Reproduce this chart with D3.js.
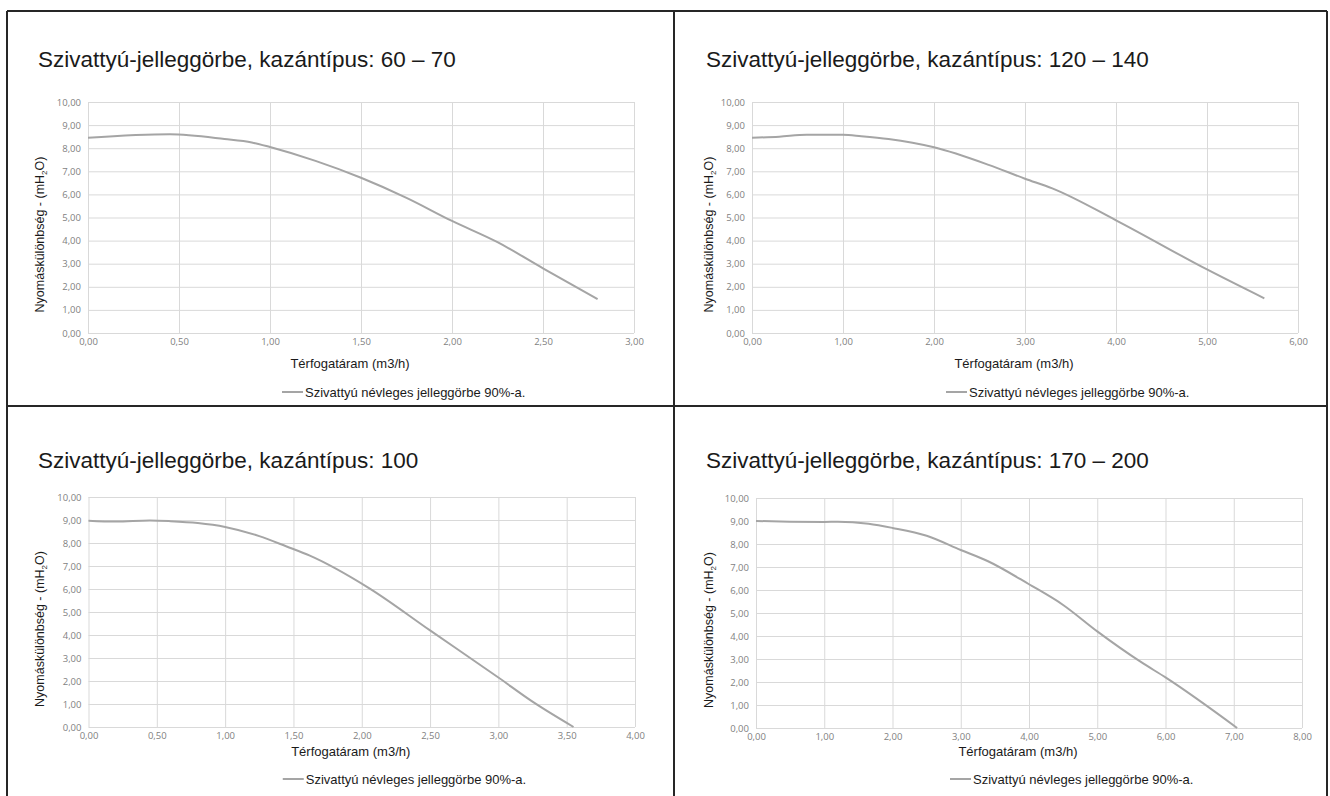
<!DOCTYPE html>
<html>
<head>
<meta charset="utf-8">
<script src="https://cdn.jsdelivr.net/npm/d3@7"></script>
<style>
  body { margin: 0; background: #fff; }
  svg { display: block; }
</style>
</head>
<body>
<div id="chart"></div>
<script>
// pump curves (flow m3/h, head mH2O)
const titles = [
  "Szivattyú-jelleggörbe, kazántípus: 60 – 70",
  "Szivattyú-jelleggörbe, kazántípus: 120 – 140",
  "Szivattyú-jelleggörbe, kazántípus: 100",
  "Szivattyú-jelleggörbe, kazántípus: 170 – 200"
];
const flow6070 = [0, 0.45, 0.75, 0.9, 1.0, 1.25, 1.5, 1.75, 2.0, 2.25, 2.5, 2.8];
const head6070 = [8.45, 8.6, 8.4, 8.25, 8.05, 7.45, 6.72, 5.85, 4.85, 3.93, 2.8, 1.47];
const flow120140 = [0, 0.3, 0.6, 1.0, 1.2, 1.5, 2.0, 2.6, 3.0, 3.3, 4.0, 5.0, 5.63];
const head120140 = [8.45, 8.5, 8.58, 8.58, 8.52, 8.4, 8.04, 7.28, 6.68, 6.26, 4.88, 2.75, 1.5];
const flow100 = [0, 0.2, 0.45, 0.6, 0.8, 1.0, 1.25, 1.45, 1.62, 2.05, 2.5, 3.0, 3.25, 3.55];
const head100 = [8.97, 8.93, 8.98, 8.95, 8.87, 8.7, 8.3, 7.85, 7.45, 6.05, 4.2, 2.15, 1.1, 0];
const flow170200 = [0, 0.5, 1.0, 1.2, 1.65, 2.0, 2.5, 3.0, 3.4, 4.0, 4.5, 5.0, 5.65, 6.0, 7.05];
const head170200 = [9.0, 8.97, 8.96, 8.97, 8.88, 8.7, 8.36, 7.74, 7.25, 6.25, 5.35, 4.2, 2.85, 2.2, 0];
const xMaxes = [3, 6, 4, 8];
const xSteps = [0.5, 1, 0.5, 1];
const yTicks = [0, 1, 2, 3, 4, 5, 6, 7, 8, 9, 10];
const xTitle = "Térfogatáram (m3/h)";
const legendText = "Szivattyú névleges jelleggörbe 90%-a.";

const flows = [flow6070, flow120140, flow100, flow170200];
const heads = [head6070, head120140, head100, head170200];

const W = 1330, H = 796;
const huLocale = d3.formatLocale({ decimal: ",", thousands: " ", grouping: [3], currency: ["", ""] });
const fmt = huLocale.format(".2f");

// plot boxes for the four panels
const layout = [
  { l: 88, r: 634, t: 102, b: 333, tx: 38, ty: 67, yt: 44, xl: 368, lg: 392 },
  { l: 752, r: 1298, t: 102, b: 333, tx: 706, ty: 67, yt: 713, xl: 368, lg: 392 },
  { l: 88.5, r: 635, t: 497, b: 727, tx: 38, ty: 468, yt: 44, xl: 756, lg: 779 },
  { l: 756, r: 1302, t: 498, b: 728, tx: 706, ty: 468, yt: 713, xl: 756, lg: 779 }
];

const svg = d3.select("#chart").append("svg")
  .attr("width", W)
  .attr("height", H)
  .attr("viewBox", [0, 0, W, H]);

layout.forEach((p, i) => {
  const g = svg.append("g");
  const x = d3.scaleLinear().domain([0, xMaxes[i]]).range([p.l, p.r]);
  const y = d3.scaleLinear().domain([0, 10]).range([p.b, p.t]);
  const xt = d3.range(0, xMaxes[i] + xSteps[i] / 2, xSteps[i]);

  g.append("text")
    .attr("x", p.tx).attr("y", p.ty)
    .attr("font-family", "Liberation Sans, Arial, sans-serif")
    .attr("font-size", 22.5)
    .attr("fill", "#1a1a1a")
    .text(titles[i]);

  // grid
  g.append("g")
    .attr("transform", `translate(0,${p.b})`)
    .call(d3.axisBottom(x).tickValues(xt).tickSize(-(p.b - p.t)).tickFormat(fmt).tickPadding(5))
    .call(a => a.select(".domain").remove())
    .call(a => a.selectAll("line").attr("stroke", "#d9d9d9"))
    .call(a => a.selectAll("text").attr("fill", "#7f7f7f")
      .attr("font-family", "Open Sans, sans-serif").attr("font-size", 9.5));

  g.append("g")
    .attr("transform", `translate(${p.l},0)`)
    .call(d3.axisLeft(y).tickValues(yTicks).tickSize(-(p.r - p.l)).tickFormat(fmt).tickPadding(7))
    .call(a => a.select(".domain").remove())
    .call(a => a.selectAll("line").attr("stroke", "#d9d9d9"))
    .call(a => a.selectAll("text").attr("fill", "#7f7f7f")
      .attr("font-family", "Open Sans, sans-serif").attr("font-size", 9.5));

  const pts = flows[i].map((f, k) => [f, heads[i][k]]);
  g.append("path")
    .datum(pts)
    .attr("fill", "none")
    .attr("stroke", "#a5a5a5")
    .attr("stroke-width", 2)
    .attr("d", d3.line().x(d => x(d[0])).y(d => y(d[1])).curve(d3.curveMonotoneX));

  // y axis title with subscript
  const cy = (p.t + p.b) / 2 + 17;
  const yl = g.append("text")
    .attr("transform", `translate(${p.yt},${cy}) rotate(-90)`)
    .attr("text-anchor", "middle")
    .attr("font-family", "Liberation Sans, Arial, sans-serif")
    .attr("font-size", 12.5)
    .attr("fill", "#1a1a1a");
  yl.append("tspan").text("Nyomáskülönbség - (mH");
  yl.append("tspan").attr("font-size", 8).attr("dy", 3).text("2");
  yl.append("tspan").attr("dy", -3).text("O)");

  const cx = (p.l + p.r) / 2 - 11;
  g.append("text")
    .attr("x", cx).attr("y", p.xl)
    .attr("text-anchor", "middle")
    .attr("font-family", "Liberation Sans, Arial, sans-serif")
    .attr("font-size", 13)
    .attr("fill", "#1a1a1a")
    .text(xTitle);

  // legend
  const lx = (p.l + p.r) / 2 - 79;
  g.append("line")
    .attr("x1", lx).attr("x2", lx + 21)
    .attr("y1", p.lg).attr("y2", p.lg)
    .attr("stroke", "#a5a5a5").attr("stroke-width", 2);
  g.append("text")
    .attr("x", lx + 23).attr("y", p.lg + 4.5)
    .attr("font-family", "Liberation Sans, Arial, sans-serif")
    .attr("font-size", 13)
    .attr("fill", "#1a1a1a")
    .text(legendText);
});

// frame lines around the panels
const frame = [
  [7, 11, 1327, 11],
  [7, 11, 7, H],
  [1327, 11, 1327, H],
  [674, 11, 674, H],
  [7, 406, 1327, 406]
];
svg.append("g")
  .selectAll("line")
  .data(frame)
  .join("line")
  .attr("x1", d => d[0]).attr("y1", d => d[1])
  .attr("x2", d => d[2]).attr("y2", d => d[3])
  .attr("stroke", "#262626")
  .attr("stroke-width", 2);
</script>
</body>
</html>
